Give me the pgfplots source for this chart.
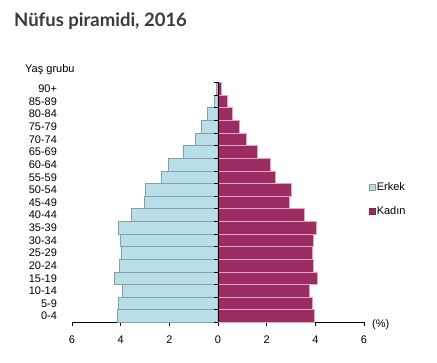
\documentclass[border=0pt]{standalone}
\usepackage{pgfplots}
\usepackage{pgfplotstable}
\pgfplotsset{compat=1.18}
\usepackage{fontspec}
\setmainfont{Liberation Sans}
\newfontfamily\titlefont{Lato}
\definecolor{male}{HTML}{B8DEE8}
\definecolor{maleedge}{HTML}{8C9CA4}
\definecolor{female}{HTML}{9B2D62}
\definecolor{femaleedge}{HTML}{E2A6C4}
\definecolor{titlegray}{HTML}{3A3A3A}
\pgfplotstableread{
pos male female
0 4.13 3.96
1 4.09 3.88
2 3.93 3.76
3 4.26 4.08
4 4.05 3.92
5 3.98 3.88
6 4.01 3.92
7 4.09 4.04
8 3.56 3.55
9 3.04 2.94
10 2.99 3.02
11 2.33 2.37
12 2.05 2.16
13 1.44 1.63
14 0.94 1.18
15 0.67 0.90
16 0.42 0.61
17 0.16 0.37
18 0.07 0.15
}\pyramid
\begin{document}
\begin{tikzpicture}
\useasboundingbox (0pt,0pt) rectangle (437pt,362pt);
\node[anchor=base west, font=\titlefont\bfseries\fontsize{18.5}{22}\selectfont, text=titlegray, inner sep=0] at (14pt,335.3pt) {Nüfus piramidi, 2016};
\node[anchor=base west, font=\fontsize{11}{13}\selectfont, inner sep=0] at (25pt,289pt) {Yaş grubu};
\node[anchor=west, font=\fontsize{11}{13}\selectfont, inner sep=0] at (372pt,37pt) {(\%)};
\begin{axis}[
  at={(72pt,39.5pt)}, anchor=south west,
  scale only axis, width=292pt, height=240pt,
  xbar, bar width=1, bar shift=0pt,
  xmin=-6, xmax=6, ymin=-0.5, ymax=18.5,
  axis x line*=bottom, axis y line*=left,
  x axis line style={-, black, line width=0.8pt},
  y axis line style={draw=none},
  xtick={-6,-4,-2,0,2,4,6},
  xticklabels={6,4,2,0,2,4,6},
  ytick={0,...,18},
  yticklabels={0-4,5-9,10-14,15-19,20-24,25-29,30-34,35-39,40-44,45-49,50-54,55-59,60-64,65-69,70-74,75-79,80-84,85-89,90+},
  ytick style={draw=none},
  xtick style={black, line width=0.8pt},
  tick align=outside, major tick length=3.5pt,
  /pgf/number format/assume math mode=true,
  tick label style={font=\fontsize{11}{13}\selectfont},
  xticklabel style={yshift=-6.5pt},
  yticklabel style={anchor=east, xshift=-8pt},
  clip=false,
  legend style={at={(1.017,0.59)}, anchor=north west, draw=none, fill=none,
    font=\fontsize{11}{13}\selectfont, row sep=12.5pt, inner sep=0pt,
    nodes={inner sep=1pt}},
  legend cell align=left,
]
\addplot[fill=male, draw=maleedge, line width=0.8pt,
  legend image code/.code={\draw[fill=male,draw=maleedge,line width=0.6pt] (0pt,-3pt) rectangle (6pt,3pt);}]
  table[y=pos, x expr=-\thisrow{male}] {\pyramid};
\addlegendentry{Erkek}
\addplot[fill=female, draw=femaleedge, line width=0.8pt,
  legend image code/.code={\draw[fill=female,draw=female!80!black,line width=0.6pt] (0pt,-3pt) rectangle (6pt,3pt);}]
  table[y=pos, x=female] {\pyramid};
\addlegendentry{Kadın}
\draw[black, line width=0.9pt] (axis cs:0,-0.5) -- (axis cs:0,18.5);
\pgfplotsinvokeforeach{0,...,19}{\draw[black, line width=0.8pt] (axis cs:0,{#1-0.5}) -- (axis cs:-0.165,{#1-0.5});}
\end{axis}
\end{tikzpicture}
\end{document}
